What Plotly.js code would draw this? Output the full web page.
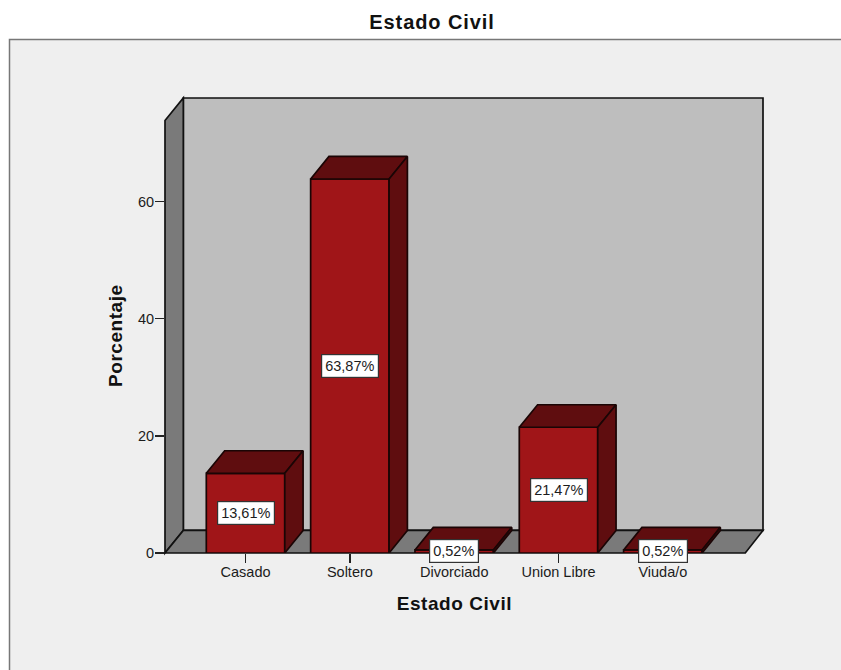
<!DOCTYPE html>
<html>
<head>
<meta charset="utf-8">
<script src="https://cdn.plot.ly/plotly-3.0.1.min.js"></script>
<style>html,body{margin:0;padding:0;background:#fff;overflow:hidden}#chart{width:841px;height:670px}</style>
</head>
<body>
<div id="chart"></div>
<script>
const categories = ["Casado", "Soltero", "Divorciado", "Union Libre", "Viuda/o"];
const percentages = [13.61, 63.87, 0.52, 21.47, 0.52];
const percentLabels = ["13,61%", "63,87%", "0,52%", "21,47%", "0,52%"];
const yTicks = [0, 20, 40, 60];
const chartTitle = "Estado Civil";
const xTitle = "Estado Civil";
const yTitle = "Porcentaje";

const FONT = '"Liberation Sans", Arial, sans-serif';
const INK = '#1c1c1c';
const positions = categories.map((_, i) => i);

// plot frame, in axis units
const xMin = -0.772, xFront = 4.79, xMax = 4.96;
const yMax = 77.7;
const depthX = 0.1755, depthY = 3.85;   // oblique 3D offset
const barWidth = 0.752;

const topX = [], topY = [], sideX = [], sideY = [];
positions.forEach((p, i) => {
  const l = p - barWidth / 2, r = p + barWidth / 2, v = percentages[i];
  topX.push(l, l + depthX, r + depthX, r, l, null);
  topY.push(v, v + depthY, v + depthY, v, v, null);
  sideX.push(r, r + depthX, r + depthX, r, r, null);
  sideY.push(0, depthY, v + depthY, v, 0, null);
});

const edge = {color: '#1a0505', width: 1.7};
const frontTrace = {
  type: 'bar', x: positions, y: percentages, width: barWidth,
  marker: {color: '#A01518', line: edge},
  cliponaxis: false, hoverinfo: 'skip', showlegend: false
};
const topTrace = {
  type: 'scatter', mode: 'lines', x: topX, y: topY, fill: 'toself',
  fillcolor: '#5F0D0F', line: edge, cliponaxis: false, hoverinfo: 'skip', showlegend: false
};
const sideTrace = {
  type: 'scatter', mode: 'lines', x: sideX, y: sideY, fill: 'toself',
  fillcolor: '#5F0D0F', line: edge, cliponaxis: false, hoverinfo: 'skip', showlegend: false
};

// frame shapes use paper coordinates so that their outlines are not clipped
const px = x => (x - xMin) / (xMax - xMin);
const py = y => y / yMax;
function polygon(pts, fill) {
  const path = 'M' + pts.map(p => px(p[0]) + ',' + py(p[1])).join('L') + 'Z';
  return {type: 'path', path, xref: 'paper', yref: 'paper', fillcolor: fill,
          line: {color: '#111', width: 1.7}, layer: 'below'};
}
const shapes = [
  {type: 'rect', xref: 'paper', yref: 'paper', x0: -155.5 / 598, x1: 1.5,
   y0: -0.5, y1: 514 / 455.5, fillcolor: '#EFEFEF',
   line: {color: '#777777', width: 1.5}, layer: 'below'},
  polygon([[xMin + depthX, depthY], [xMax, depthY], [xMax, yMax], [xMin + depthX, yMax]], '#BEBEBE'),
  polygon([[xMin, 0], [xMin + depthX, depthY], [xMin + depthX, yMax], [xMin, yMax - depthY]], '#7A7A7A'),
  polygon([[xMin, 0], [xFront, 0], [xMax, depthY], [xMin + depthX, depthY]], '#7A7A7A')
];

const annotations = positions.map((p, i) => ({
  x: p, y: percentages[i] / 2, xref: 'x', yref: 'y', text: percentLabels[i],
  showarrow: false, bgcolor: '#FFFFFF', bordercolor: '#333333', borderwidth: 1.2, borderpad: 3,
  font: {family: FONT, size: 14.5, color: INK}
}));
const headingFont = {family: FONT, size: 19, color: '#111', weight: 'bold'};
annotations.push(
  {xref: 'paper', yref: 'paper', x: (454 - 165) / 598, y: (553 - 604) / 455.5, text: xTitle,
   xanchor: 'center', yanchor: 'middle', showarrow: false, font: headingFont},
  {xref: 'paper', yref: 'paper', x: (115 - 165) / 598, y: (553 - 336) / 455.5, text: yTitle,
   xanchor: 'center', yanchor: 'middle', textangle: -90, showarrow: false, font: headingFont}
);

const layout = {
  width: 841, height: 670,
  margin: {l: 165, r: 78, t: 98, b: 116.5},
  paper_bgcolor: '#FFFFFF', plot_bgcolor: 'rgba(0,0,0,0)',
  showlegend: false, hovermode: false,
  title: {text: chartTitle, x: 432 / 841, xanchor: 'center', y: 1 - 22 / 670, yanchor: 'middle',
          font: {family: FONT, size: 20, color: '#111', weight: 'bold'}},
  xaxis: {
    range: [xMin, xMax], tickmode: 'array', tickvals: positions, ticktext: categories,
    ticks: 'outside', ticklen: 9, tickwidth: 1.4, tickcolor: '#222', ticklabelstandoff: -3,
    showgrid: false, zeroline: false, showline: false, fixedrange: true,
    tickfont: {family: FONT, size: 14.5, color: INK}
  },
  yaxis: {
    range: [0, yMax], tickmode: 'array', tickvals: yTicks, ticktext: yTicks.map(String),
    ticks: 'outside', ticklen: 9, tickwidth: 1.4, tickcolor: '#222', ticklabelstandoff: -2,
    showgrid: false, zeroline: false, showline: false, fixedrange: true,
    tickfont: {family: FONT, size: 14.5, color: INK}
  },
  shapes, annotations
};

Plotly.newPlot('chart', [frontTrace, topTrace, sideTrace], layout, {displayModeBar: false, staticPlot: true}).then(() => {
  // the reference's bold headings are set wide
  document.querySelectorAll('#chart .annotation text').forEach(t => {
    if (t.textContent === xTitle || t.textContent === yTitle) t.style.letterSpacing = '0.55px';
  });
  const g = document.querySelector('#chart .gtitle');
  if (g) g.style.letterSpacing = '0.9px';
});
</script>
</body>
</html>
